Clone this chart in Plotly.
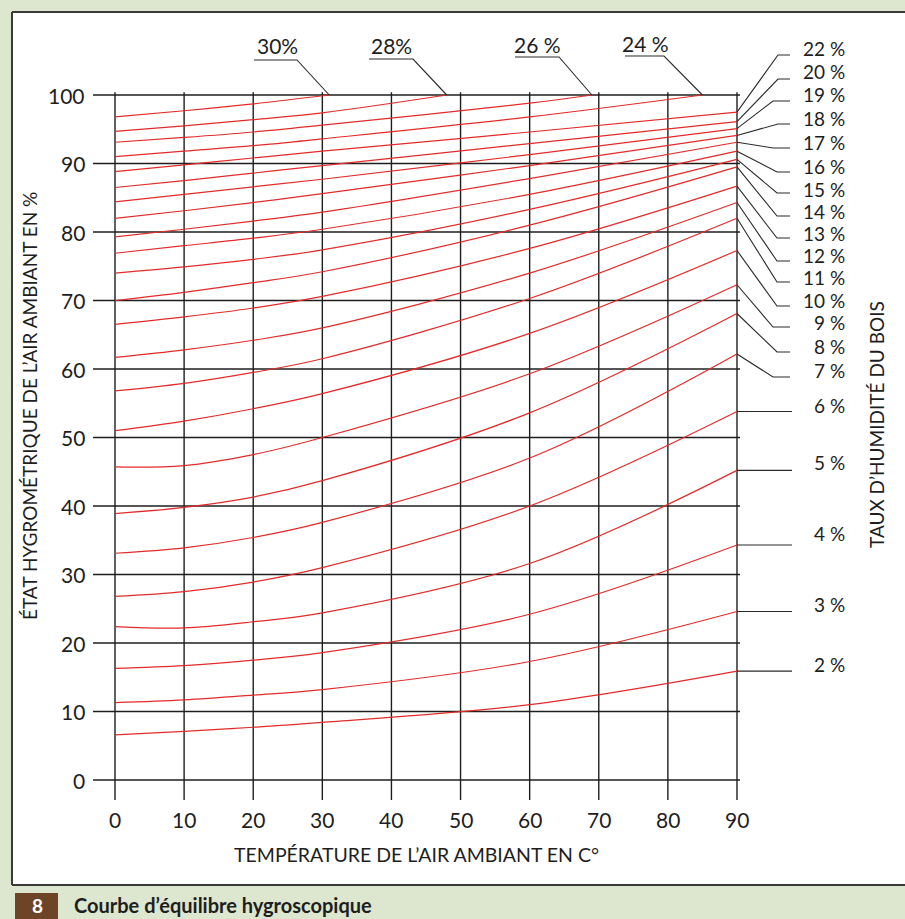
import plotly.graph_objects as go

# Wood moisture content (%) for each equilibrium curve
MOISTURE = [2, 3, 4, 5, 6, 7, 8, 9, 10, 11, 12, 13, 14, 15, 16, 17, 18, 19, 20, 22, 24, 26, 28, 30]
MOISTURE_LABELS = ["2 %", "3 %", "4 %", "5 %", "6 %", "7 %", "8 %", "9 %", "10 %", "11 %", "12 %",
                   "13 %", "14 %", "15 %", "16 %", "17 %", "18 %", "19 %", "20 %", "22 %",
                   "24 %", "26 %", "28%", "30%"]

# Air temperature (°C) at which relative humidity is sampled
TEMPS = [0, 10, 20, 30, 60, 90]

# Relative humidity (%) of each curve at the temperatures above (None = beyond 100 %)
RH_AT_0 = [6.6, 11.3, 16.3, 22.4, 26.8, 33.1, 38.9, 45.7, 51.0, 56.8, 61.7, 66.5,
           70.0, 74.0, 76.9, 79.3, 82.0, 84.4, 86.5, 88.8, 91.0, 93.1, 94.7, 96.8]
RH_AT_10 = [7.1, 11.7, 16.7, 22.2, 27.5, 33.9, 39.8, 45.9, 52.4, 57.9, 62.8, 67.6,
            71.2, 74.9, 78.0, 80.4, 83.1, 85.5, 87.5, 89.8, 91.8, 93.8, 95.5, 97.7]
RH_AT_20 = [7.7, 12.4, 17.5, 23.1, 28.9, 35.4, 41.3, 47.5, 54.2, 59.5, 64.2, 68.9,
            72.6, 76.0, 79.1, 81.6, 84.3, 86.6, 88.6, 90.8, 92.6, 94.6, 96.4, 98.7]
RH_AT_30 = [8.4, 13.2, 18.6, 24.4, 31.0, 37.6, 43.7, 50.0, 56.4, 61.5, 66.0, 70.6,
            74.2, 77.4, 80.4, 82.9, 85.6, 87.7, 89.7, 91.8, 93.6, 95.6, 97.4, None]
RH_AT_60 = [11.0, 17.3, 24.2, 31.6, 40.0, 47.0, 53.6, 59.3, 65.2, 70.3, 74.0, 77.6,
            81.0, 83.3, 85.5, 87.8, 89.7, 91.3, 92.9, 94.6, 96.8, 98.8, None, None]
RH_AT_90 = [15.9, 24.6, 34.3, 45.2, 53.8, 62.2, 68.1, 72.3, 77.3, 82.0, 84.3, 86.7,
            89.5, 90.6, 91.8, 93.1, 94.1, 95.1, 96.1, 97.5, None, None, None, None]

# Curves that reach 100 % before 90 °C, and the temperature where they do
TOP_CURVES = [24, 26, 28, 30]
TOP_END_TEMP = [85, 69, 48, 31]

X_TICKS = [0, 10, 20, 30, 40, 50, 60, 70, 80, 90]
Y_TICKS = [0, 10, 20, 30, 40, 50, 60, 70, 80, 90, 100]

W, H = 905, 919
FONT = "Lato"
INK = "#1e1e1e"
RED = "#e42a2a"
GREEN = "#dde6cf"


# pixel -> data helpers (the axes span the whole canvas)
def X(px):
    return (px - 115) / 6.911


def Y(py):
    return (780 - py) / 6.85


fig = go.Figure()
shapes = []
annotations = []

# white panel on the tinted page, ruled at the top, left and bottom
shapes.append(dict(type="rect", xref="x", yref="y", x0=X(12), x1=X(W + 5), y0=Y(12), y1=Y(885),
                   fillcolor="white", line=dict(width=0), layer="below"))
BORDER = dict(color="#3a3a3a", width=2)
shapes.append(dict(type="line", xref="x", yref="y", x0=X(12), x1=X(W), y0=Y(12), y1=Y(12),
                   line=BORDER, layer="below"))
shapes.append(dict(type="line", xref="x", yref="y", x0=X(12), x1=X(W), y0=Y(885), y1=Y(885),
                   line=BORDER, layer="below"))
shapes.append(dict(type="line", xref="x", yref="y", x0=X(12), x1=X(12), y0=Y(12), y1=Y(885),
                   line=BORDER, layer="below"))

# grid
for v in Y_TICKS:
    shapes.append(dict(type="line", xref="x", yref="y", x0=X(93), x1=X(740), y0=v, y1=v,
                       line=dict(color=INK, width=1.6), layer="below"))
for t in X_TICKS:
    shapes.append(dict(type="line", xref="x", yref="y", x0=t, x1=t, y0=Y(800), y1=100.4,
                       line=dict(color=INK, width=1.4), layer="below"))

# equilibrium curves
columns = [RH_AT_0, RH_AT_10, RH_AT_20, RH_AT_30, RH_AT_60, RH_AT_90]
curve_end = {}
for i, m in enumerate(MOISTURE):
    xs, ys = [], []
    for t, col in zip(TEMPS, columns):
        if col[i] is not None:
            xs.append(t)
            ys.append(col[i])
    if m in TOP_CURVES:
        xs.append(TOP_END_TEMP[TOP_CURVES.index(m)])
        ys.append(100)
    curve_end[m] = (xs[-1], ys[-1])
    fig.add_trace(go.Scatter(x=xs, y=ys, mode="lines",
                             line=dict(color=RED, width=1.2, shape="spline", smoothing=1.0),
                             hoverinfo="skip", showlegend=False))

LEADER = dict(color="#2a2a2a", width=1.1)

# right-hand labels: (label centre y, leader knee x, leader y) in pixels
RIGHT_LAYOUT = {
    22: (48, 778, 55), 20: (71, 778, 79), 19: (94, 773, 101), 18: (118, 778, 124),
    17: (142, 773, 148), 16: (166, 777, 172), 15: (189, 777, 193), 14: (211, 777, 216),
    13: (233, 777, 238), 12: (255, 777, 261), 11: (277, 777, 282), 10: (300, 777, 306),
    9: (322, 773, 327), 8: (346, 777, 352), 7: (370, 773, 377),
}
LOW_LABEL_Y = {6: 405, 5: 462, 4: 533, 3: 604, 2: 664}

for i, m in enumerate(MOISTURE):
    if m in TOP_CURVES:
        continue
    ex, ey = curve_end[m]
    if m in RIGHT_LAYOUT:
        ly, kx, hy = RIGHT_LAYOUT[m]
        shapes.append(dict(type="path", xref="x", yref="y",
                           path=f"M {ex},{ey} L {X(kx)},{Y(hy)} L {X(790)},{Y(hy)}",
                           line=LEADER))
    else:
        ly = LOW_LABEL_Y[m]
        shapes.append(dict(type="line", xref="x", yref="y", x0=ex, y0=ey, x1=X(792), y1=ey,
                           line=LEADER))
    annotations.append(dict(x=X(847), y=Y(ly), xref="x", yref="y", text=MOISTURE_LABELS[i],
                            showarrow=False, xanchor="right", yanchor="middle",
                            font=dict(family=FONT, size=19, color=INK)))

# top labels: (label centre x, label centre y, leader start x, leader knee x, leader y)
TOP_LAYOUT = {30: (277, 45, 254, 297, 60), 28: (391, 45, 369, 413, 59),
              26: (537, 44, 515, 559, 57), 24: (645, 43, 625, 664, 56)}
for m in TOP_CURVES:
    i = MOISTURE.index(m)
    cx, cy, sx, kx, hy = TOP_LAYOUT[m]
    ex, ey = curve_end[m]
    shapes.append(dict(type="path", xref="x", yref="y",
                       path=f"M {X(sx)},{Y(hy)} L {X(kx)},{Y(hy)} L {ex},{ey}",
                       line=LEADER))
    annotations.append(dict(x=X(cx), y=Y(cy), xref="x", yref="y", text=MOISTURE_LABELS[i],
                            showarrow=False, xanchor="center", yanchor="middle",
                            font=dict(family=FONT, size=21, color=INK)))

# tick labels
for v in Y_TICKS:
    annotations.append(dict(x=X(87), y=v, xref="x", yref="y", text=str(v), showarrow=False,
                            xanchor="right", yanchor="middle",
                            font=dict(family=FONT, size=21, color=INK)))
for t in X_TICKS:
    annotations.append(dict(x=t, y=Y(819), xref="x", yref="y", text=str(t), showarrow=False,
                            xanchor="center", yanchor="middle",
                            font=dict(family=FONT, size=21, color=INK)))

# axis titles
annotations.append(dict(x=X(416), y=Y(854), xref="x", yref="y",
                        text="TEMPÉRATURE DE L’AIR AMBIANT EN C°", showarrow=False,
                        xanchor="center", yanchor="middle",
                        font=dict(family=FONT, size=19.5, color=INK)))
annotations.append(dict(x=X(29), y=Y(406), xref="x", yref="y",
                        text="ÉTAT HYGROMÉTRIQUE DE L’AIR AMBIANT EN %", showarrow=False,
                        textangle=-90, xanchor="center", yanchor="middle",
                        font=dict(family=FONT, size=19, color=INK)))
annotations.append(dict(x=X(876), y=Y(425), xref="x", yref="y",
                        text="TAUX D’HUMIDITÉ DU BOIS", showarrow=False,
                        textangle=-90, xanchor="center", yanchor="middle",
                        font=dict(family=FONT, size=19, color=INK)))

# caption
shapes.append(dict(type="rect", xref="x", yref="y", x0=X(15), x1=X(58), y0=Y(925), y1=Y(893),
                   fillcolor="#6e4428", line=dict(width=0)))
annotations.append(dict(x=X(37), y=Y(905), xref="x", yref="y", text="<b>8</b>", showarrow=False,
                        xanchor="center", yanchor="middle",
                        font=dict(family=FONT, size=19, color="white")))
annotations.append(dict(x=X(72), y=Y(905), xref="x", yref="y",
                        text="<b>Courbe d’équilibre hygroscopique</b>", showarrow=False,
                        xanchor="left", yanchor="middle",
                        font=dict(family=FONT, size=20, color=INK)))

fig.update_layout(
    width=W, height=H,
    margin=dict(l=0, r=0, t=0, b=0),
    paper_bgcolor=GREEN, plot_bgcolor=GREEN,
    shapes=shapes, annotations=annotations,
    xaxis=dict(range=[X(0), X(W)], visible=False, fixedrange=True),
    yaxis=dict(range=[Y(H), Y(0)], visible=False, fixedrange=True),
)

fig.write_html("out.html")
